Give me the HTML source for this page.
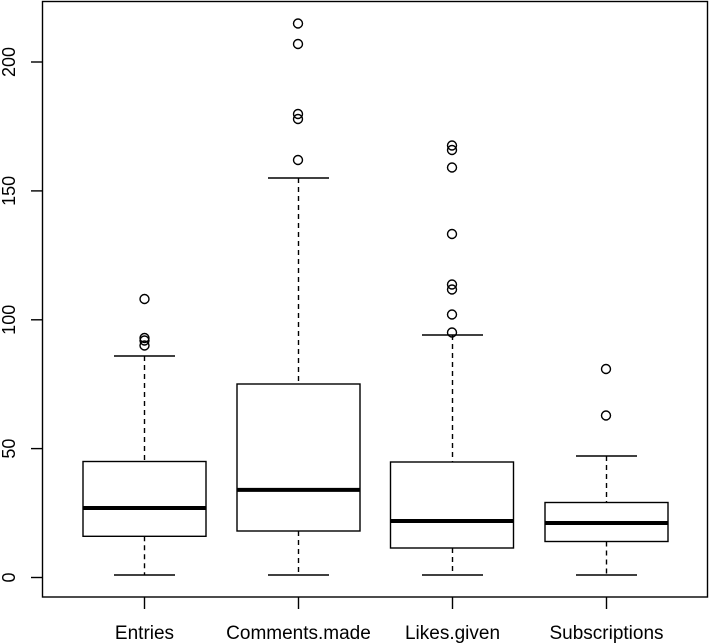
<!DOCTYPE html>
<html><head><meta charset="utf-8"><style>
html,body{margin:0;padding:0;background:#fff;}
svg{display:block;font-family:"Liberation Sans",Arial,sans-serif;}
</style></head><body>
<svg width="709" height="644" viewBox="0 0 709 644" xmlns="http://www.w3.org/2000/svg">
<g fill="none" stroke="#000" stroke-width="1.4">
<rect x="42.5" y="1.5" width="665" height="595.5"/>
<line x1="31" y1="577.5" x2="42.5" y2="577.5"/>
<line x1="31" y1="448.6" x2="42.5" y2="448.6"/>
<line x1="31" y1="319.8" x2="42.5" y2="319.8"/>
<line x1="31" y1="190.9" x2="42.5" y2="190.9"/>
<line x1="31" y1="62" x2="42.5" y2="62"/>
<line x1="144.5" y1="597" x2="144.5" y2="609"/>
<line x1="298.5" y1="597" x2="298.5" y2="609"/>
<line x1="452.5" y1="597" x2="452.5" y2="609"/>
<line x1="606.5" y1="597" x2="606.5" y2="609"/>
</g>
<g font-size="18" text-anchor="middle" fill="#000">
<text transform="translate(15,577.5) rotate(-90)">0</text>
<text transform="translate(15,448.6) rotate(-90)">50</text>
<text transform="translate(15,319.8) rotate(-90)">100</text>
<text transform="translate(15,190.9) rotate(-90)">150</text>
<text transform="translate(15,62) rotate(-90)">200</text>
</g>
<g font-size="19" text-anchor="middle" fill="#000">
<text x="144.5" y="639">Entries</text>
<text x="298.5" y="639">Comments.made</text>
<text x="452.5" y="639">Likes.given</text>
<text x="606.5" y="639">Subscriptions</text>
</g>
<g fill="none" stroke="#000" stroke-width="1.4">
<line x1="144.5" y1="536.3" x2="144.5" y2="575" stroke-dasharray="5,4"/>
<line x1="144.5" y1="356" x2="144.5" y2="461.5" stroke-dasharray="5,4"/>
<line x1="114" y1="575" x2="175" y2="575"/>
<line x1="114" y1="356" x2="175" y2="356"/>
<rect x="83" y="461.5" width="123" height="74.8"/>
<line x1="83" y1="508" x2="206" y2="508" stroke-width="4"/>
<circle cx="144.5" cy="345.5" r="4.5"/>
<circle cx="144.5" cy="340.5" r="4.5"/>
<circle cx="144.5" cy="338" r="4.5"/>
<circle cx="144.5" cy="299" r="4.5"/>
<line x1="298.5" y1="531" x2="298.5" y2="575" stroke-dasharray="5,4"/>
<line x1="298.5" y1="178" x2="298.5" y2="384" stroke-dasharray="5,4"/>
<line x1="268" y1="575" x2="329" y2="575"/>
<line x1="268" y1="178" x2="329" y2="178"/>
<rect x="237" y="384" width="123" height="147"/>
<line x1="237" y1="489.9" x2="360" y2="489.9" stroke-width="4"/>
<circle cx="298" cy="160" r="4.5"/>
<circle cx="298" cy="119" r="4.5"/>
<circle cx="298" cy="114" r="4.5"/>
<circle cx="298" cy="44" r="4.5"/>
<circle cx="298" cy="23.5" r="4.5"/>
<line x1="452.5" y1="548" x2="452.5" y2="575" stroke-dasharray="5,4"/>
<line x1="452.5" y1="335" x2="452.5" y2="462" stroke-dasharray="5,4"/>
<line x1="422" y1="575" x2="483" y2="575"/>
<line x1="422" y1="335" x2="483" y2="335"/>
<rect x="390.5" y="462" width="123" height="86"/>
<line x1="390.5" y1="521" x2="513.5" y2="521" stroke-width="4"/>
<circle cx="452" cy="332.5" r="4.5"/>
<circle cx="452" cy="314.5" r="4.5"/>
<circle cx="452" cy="289.5" r="4.5"/>
<circle cx="452" cy="284.5" r="4.5"/>
<circle cx="452" cy="234" r="4.5"/>
<circle cx="452" cy="167.5" r="4.5"/>
<circle cx="452" cy="150" r="4.5"/>
<circle cx="452" cy="145.5" r="4.5"/>
<line x1="606.5" y1="541.5" x2="606.5" y2="575" stroke-dasharray="5,4"/>
<line x1="606.5" y1="456" x2="606.5" y2="502.5" stroke-dasharray="5,4"/>
<line x1="576" y1="575" x2="637" y2="575"/>
<line x1="576" y1="456" x2="637" y2="456"/>
<rect x="545" y="502.5" width="123" height="39"/>
<line x1="545" y1="523" x2="668" y2="523" stroke-width="4"/>
<circle cx="606" cy="415.5" r="4.5"/>
<circle cx="606" cy="369" r="4.5"/>
</g>
</svg>
</body></html>
